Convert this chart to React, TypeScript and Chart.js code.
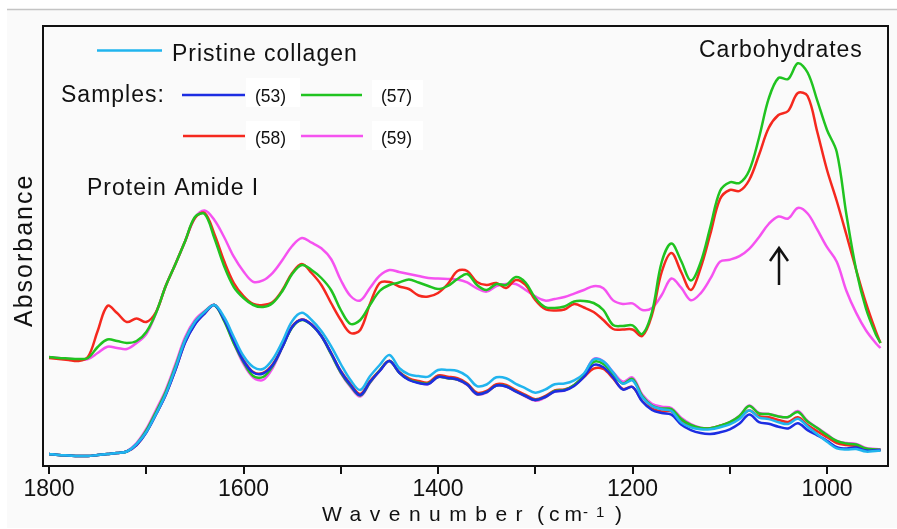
import React, { useEffect, useRef } from 'react';
import { Chart, registerables } from 'chart.js';

Chart.register(...registerables);

// Wavenumber grid (cm-1)
const wavenumbers = [
  1800, 1790, 1780, 1770, 1760, 1750, 1740, 1730, 1720, 1710,
  1700, 1690, 1680, 1670, 1660, 1650, 1640, 1630, 1620, 1610,
  1600, 1590, 1580, 1570, 1560, 1550, 1540, 1530, 1520, 1510,
  1500, 1490, 1480, 1470, 1460, 1450, 1440, 1430, 1420, 1410,
  1400, 1390, 1380, 1370, 1360, 1350, 1340, 1330, 1320, 1310,
  1300, 1290, 1280, 1270, 1260, 1250, 1240, 1230, 1220, 1210,
  1200, 1190, 1180, 1170, 1160, 1150, 1140, 1130, 1120, 1110,
  1100, 1090, 1080, 1070, 1060, 1050, 1040, 1030, 1020, 1010,
  1000, 990, 980, 970, 960, 950, 945,
];

// Upper (offset) spectra, arbitrary absorbance units
const upper58 = [
  108, 107, 106, 105, 109, 135, 160, 153, 144, 147.5,
  144, 154, 180, 202, 225, 248, 253, 232, 205, 183,
  170, 162, 161, 164, 176, 193, 202, 193, 181, 163,
  146, 133, 136, 162, 183, 184, 179.5, 177, 170.5, 169.5,
  173, 182, 195, 195, 184, 181, 183, 178, 186, 181,
  166, 157, 155.5, 156.5, 162, 158.5, 154, 146, 137, 136.5,
  136.5, 130, 151, 194, 213, 194, 176, 198, 232, 267,
  276, 275, 286, 311, 338, 351, 355, 373, 370, 334,
  296, 265, 231, 196, 163, 135, 123,
];
const upper57 = [
  109, 108, 107.5, 107, 108, 119, 126.5, 125, 123, 125,
  134, 153, 180, 202, 225, 249, 252, 228, 200, 179,
  168, 161, 159, 163, 175, 192, 201, 196, 188, 176,
  156, 142, 146, 161, 175, 181, 183.5, 186.5, 183.5, 180,
  177, 180, 187, 192, 181, 176, 182, 181, 189, 183.5,
  168, 159, 158, 159.5, 164.5, 165, 163, 156, 141, 140,
  140.6, 132, 154, 204, 222.5, 205, 185.4, 203.5, 239, 275,
  283.7, 283, 295.5, 328, 367.3, 388, 387, 402.7, 393.5, 365.4,
  336, 314, 251, 196, 157.5, 132, 123,
];
const upper59 = [
  109, 108, 107, 106.5, 107, 113, 119.3, 118, 117, 123,
  132, 153, 180, 202, 225, 248, 255.5, 246, 229, 209.3,
  194.5, 184.2, 185.6, 193.2, 206, 220, 228, 223.3, 217.7, 207,
  186, 170, 165.5, 178, 190.3, 196, 194, 192, 190, 188,
  187.4, 187, 186.5, 183.6, 177.6, 174.4, 180, 182, 182, 176,
  169.6, 165.4, 167, 169, 172.4, 176, 179.8, 177.7, 165.6, 162,
  162.6, 156, 158, 171, 187.5, 178.3, 165.8, 172.7, 187.3, 204.3,
  206.3, 209.8, 217.1, 228.8, 242, 249.5, 247.5, 258, 252.5, 236.3,
  218.8, 204.3, 175, 153.1, 135.7, 123, 118,
];

// Lower spectra
const lowerPristine = [
  12, 11, 10.5, 10, 10, 11, 12, 13, 14.5, 22,
  34, 52, 72, 98, 126, 144, 154, 161, 149, 129,
  110, 99, 97, 106.7, 124.5, 144.9, 153.2, 146, 134.9, 119.8,
  102, 86, 76, 89.7, 101, 111, 98, 91.6, 89.9, 89.4,
  96, 96, 95, 89.7, 79.9, 81.5, 88.7, 87.8, 82.2, 77.7,
  73.3, 76.3, 81.8, 82.4, 85.6, 92.5, 106.5, 104.6, 93.6, 82.3,
  85.5, 68.7, 59.9, 56.7, 55, 43.6, 38.6, 36.7, 36.7, 38.7,
  41.7, 47.1, 55.5, 48.4, 46.9, 43.8, 42, 47.3, 39.5, 31.7,
  24.2, 17.6, 16.5, 17, 14.4, 15, 15.3,
];
const lower53 = [
  12, 11, 10.5, 10, 10, 11, 12, 13, 14.5, 21,
  33.5, 51.5, 71, 96, 123.5, 141.5, 152.5, 161, 146.5, 125,
  105, 93.5, 92.5, 101, 119, 139, 146.3, 141.3, 130, 113,
  94.5, 81, 71, 84, 95, 105, 93.5, 86, 83, 82,
  89, 88, 86.5, 81.5, 72, 74, 80.5, 79.5, 74.5, 70,
  66, 69, 74.5, 75.5, 80, 89, 101, 98.8, 88.6, 76.5,
  79, 64.5, 56, 53, 51.3, 41.5, 35.9, 32.9, 32, 33.7,
  36.7, 42.4, 51.5, 43.9, 42.2, 39.3, 37.6, 42.7, 35.9, 30.7,
  25.3, 18.9, 17.5, 18.4, 15.4, 15.8, 16,
];
const lower57 = [
  12, 11, 10.5, 10, 10, 11, 12, 13, 14.5, 22,
  35.5, 54, 74, 99.5, 126.5, 144, 154, 161, 145, 122.5,
  104, 90, 89, 100, 119, 138.5, 146, 141, 130, 112,
  93.5, 80, 70.5, 83.5, 95.5, 105, 93.5, 86.5, 83.5, 82.5,
  89, 87.8, 86.5, 81.5, 72, 74, 80.5, 79.8, 74.5, 70,
  66, 69, 75, 76, 81, 90.5, 104, 102, 92, 82.5,
  87, 70, 60.5, 57.5, 57, 47, 41, 38, 37.7, 40.2,
  43.8, 50, 60, 52.5, 52, 49.5, 49, 54, 44.5, 38,
  31, 25, 22.5, 21.5, 17.5, 16.5, 16.2,
];
const lower58 = [
  12, 11, 10.5, 10, 10, 11, 12, 13, 14.5, 21,
  34, 52, 71.6, 96.4, 124, 142, 152.6, 161, 146.7, 125.2,
  106.1, 94, 93, 101.7, 119.5, 139.6, 146.6, 141.6, 130.4, 113.2,
  95, 82, 72, 85, 95.7, 105.3, 94, 87.7, 85, 83.5,
  90.5, 89.3, 87.7, 82.6, 73.3, 75, 81.8, 81, 75.8, 71.2,
  66.7, 69.8, 75.6, 76.5, 80.7, 89, 97.4, 97, 87.5, 77,
  79, 65, 57.3, 54.5, 54.6, 45, 39.9, 37.7, 37.7, 40.2,
  43.4, 48.4, 55.5, 49.7, 48.8, 46, 44.1, 48.7, 41.1, 34.7,
  28.8, 23, 21, 20, 17, 16.2, 16,
];
const lower59 = [
  12, 11, 10.5, 10, 10, 11, 12, 13, 15, 23,
  37, 56, 76, 102, 129, 146, 155, 161, 146, 123,
  102, 88.5, 86, 98, 119, 139, 146.5, 141.5, 130, 112,
  93, 79, 69.5, 83, 95, 105, 93.5, 86.5, 83.5, 82,
  89, 87.8, 86.2, 81, 71.5, 73.5, 80.5, 79.5, 74.3, 69.5,
  65.2, 68.5, 74.5, 75.5, 81, 91, 107, 104.7, 94, 84.3,
  88.5, 71.5, 62.3, 59.3, 58, 48.2, 42, 38.4, 37.7, 40.2,
  43.8, 50.2, 60.5, 53.1, 52.1, 49.8, 48.8, 55, 45, 38.1,
  31.7, 25, 23, 22.1, 18, 17, 16.7,
];

const tickValues = [1800, 1700, 1600, 1500, 1400, 1300, 1200, 1100, 1000];
const labeledTicks = [1800, 1600, 1400, 1200, 1000];

const COLORS = {
  pristine: '#21b4ee',
  s53: '#1c2de2',
  s57: '#20c320',
  s58: '#f5281e',
  s59: '#f552f0',
};

const FONT = '"Liberation Sans", Arial, sans-serif';

function series(values: number[]) {
  return wavenumbers.map((w, i) => ({ x: w, y: values[i] }));
}

const decorPlugin = {
  id: 'decor',
  beforeDraw(chart: any) {
    const ctx = chart.ctx;
    ctx.save();
    ctx.fillStyle = '#ffffff';
    ctx.fillRect(0, 0, chart.width, chart.height);
    ctx.fillStyle = '#fafafa';
    ctx.fillRect(7, 10, chart.width - 7, 518);
    ctx.strokeStyle = '#c4c4c4';
    ctx.lineWidth = 1.5;
    ctx.beginPath();
    ctx.moveTo(7, 9.5);
    ctx.lineTo(chart.width, 9.5);
    ctx.stroke();
    ctx.restore();
  },
  afterDraw(chart: any) {
    const ctx = chart.ctx;
    const a = chart.chartArea;
    ctx.save();
    // frame
    ctx.strokeStyle = '#111';
    ctx.lineWidth = 2;
    ctx.strokeRect(a.left, a.top, a.right - a.left, a.bottom - a.top);

    // legend
    ctx.lineWidth = 2.5;
    const seg = (x1: number, x2: number, y: number, c: string) => {
      ctx.strokeStyle = c;
      ctx.beginPath();
      ctx.moveTo(x1, y);
      ctx.lineTo(x2, y);
      ctx.stroke();
    };
    seg(97, 162, 50.5, COLORS.pristine);
    seg(182, 245, 95, COLORS.s53);
    seg(301, 362, 95, COLORS.s57);
    seg(183, 245, 136, COLORS.s58);
    seg(301, 363, 136, COLORS.s59);

    ctx.fillStyle = '#ffffff';
    ctx.fillRect(246, 78, 54, 29);
    ctx.fillRect(372, 80, 51, 27);
    ctx.fillRect(246, 121, 54, 29);
    ctx.fillRect(372, 121, 51, 29);

    ctx.fillStyle = '#111';
    ctx.textBaseline = 'alphabetic';
    ctx.textAlign = 'left';
    ctx.font = `23px ${FONT}`;
    ctx.letterSpacing = '1px';
    ctx.fillText('Pristine collagen', 172, 61);
    ctx.fillText('Samples:', 61, 102);
    ctx.fillText('Protein Amide I', 87, 195);
    ctx.fillText('Carbohydrates', 699, 57);
    ctx.letterSpacing = '0px';
    ctx.font = `17.5px ${FONT}`;
    ctx.fillText('(53)', 255, 102);
    ctx.fillText('(57)', 381, 102);
    ctx.fillText('(58)', 255, 144);
    ctx.fillText('(59)', 381, 144);

    // arrow
    ctx.strokeStyle = '#111';
    ctx.lineWidth = 2.5;
    ctx.beginPath();
    ctx.moveTo(779, 285);
    ctx.lineTo(779, 248);
    ctx.moveTo(770, 261);
    ctx.lineTo(779, 248);
    ctx.lineTo(788, 261);
    ctx.stroke();

    // x title
    ctx.font = `21px ${FONT}`;
    ctx.letterSpacing = '8.5px';
    ctx.fillText('Wavenumber', 322, 521);
    ctx.letterSpacing = '5px';
    ctx.fillText('(cm', 537, 521);
    ctx.letterSpacing = '0px';
    ctx.font = `15px ${FONT}`;
    ctx.fillText('-', 583, 516.5);
    ctx.fillText('1', 596, 516.5);
    ctx.font = `21px ${FONT}`;
    ctx.fillText(')', 615, 521);

    // y title
    ctx.save();
    ctx.translate(32, 327);
    ctx.rotate(-Math.PI / 2);
    ctx.font = `25px ${FONT}`;
    ctx.letterSpacing = '2px';
    ctx.fillText('Absorbance', 0, 0);
    ctx.restore();

    ctx.restore();
  },
};

export default function App() {
  const ref = useRef<HTMLCanvasElement | null>(null);

  useEffect(() => {
    if (!ref.current) return;
    const line = (label: string, values: number[], color: string) => ({
      label,
      data: series(values),
      borderColor: color,
      backgroundColor: color,
      borderWidth: 2.5,
      pointRadius: 0,
      tension: 0.35,
      fill: false,
    });
    const chart = new Chart(ref.current, {
      type: 'line',
      data: {
        datasets: [
          line('Pristine collagen', lowerPristine, COLORS.pristine),
          line('(53)', lower53, COLORS.s53),
          line('(57)', lower57, COLORS.s57),
          line('(58)', lower58, COLORS.s58),
          line('(59)', lower59, COLORS.s59),
          line('(57) offset', upper57, COLORS.s57),
          line('(58) offset', upper58, COLORS.s58),
          line('(59) offset', upper59, COLORS.s59),
        ],
      },
      options: {
        animation: false,
        responsive: false,
        devicePixelRatio: 1,
        layout: { padding: { top: 26, right: 9, left: 43, bottom: 0 } },
        plugins: {
          legend: { display: false },
          tooltip: { enabled: false },
          title: { display: false },
        },
        scales: {
          x: {
            type: 'linear',
            reverse: true,
            min: 937.3,
            max: 1806.2,
            afterBuildTicks: (scale: any) => {
              scale.ticks = tickValues.map((v) => ({ value: v }));
            },
            afterFit: (scale: any) => {
              scale.height = 63;
            },
            ticks: {
              autoSkip: false,
              maxRotation: 0,
              padding: 2,
              color: '#111',
              font: { family: FONT, size: 23 },
              callback: (v: any) => (labeledTicks.includes(Number(v)) ? String(v) : ''),
            },
            grid: {
              display: true,
              drawOnChartArea: false,
              drawTicks: true,
              tickLength: 8,
              color: '#111',
              lineWidth: 2,
            },
            border: { display: false },
          },
          y: {
            type: 'linear',
            display: false,
            min: 0,
            max: 440,
          },
        },
      },
      plugins: [decorPlugin],
    } as any);
    return () => chart.destroy();
  }, []);

  return (
    <div style={{ position: 'fixed', left: 0, top: 0, width: 897, height: 529 }}>
      <canvas ref={ref} width={897} height={529} style={{ display: 'block' }} />
    </div>
  );
}
